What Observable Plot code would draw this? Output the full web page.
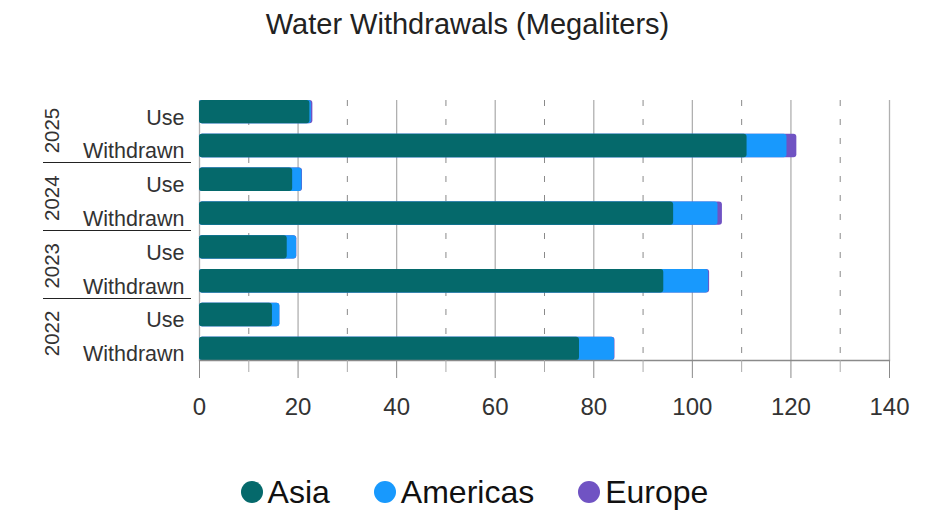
<!DOCTYPE html>
<html>
<head>
<meta charset="utf-8">
<script src="https://cdn.jsdelivr.net/npm/d3@7"></script>
<script src="https://cdn.jsdelivr.net/npm/@observablehq/plot@0.6"></script>
<style>
  body { margin: 0; background: #fff; font-family: "Liberation Sans", Arial, sans-serif; }
  #title { height: 50px; line-height: 49px; text-align: center; font-size: 29px; color: #222; }
  #legend { display: flex; justify-content: center; align-items: center; gap: 44px; margin-top: 14px; height: 36px; font-size: 32px; color: #111; padding-left: 14px; }
  #legend .item { display: flex; align-items: center; gap: 5px; }
  #legend .dot { width: 22px; height: 22px; border-radius: 50%; }
</style>
</head>
<body>
<div id="title">Water Withdrawals (Megaliters)</div>
<div id="chart"></div>
<div id="legend"></div>
<script>
// Years from top to bottom, and the two measures shown for each year
const years = ["2025", "2024", "2023", "2022"];
const kinds = ["Use", "Withdrawn"];
const regions = ["Asia", "Americas", "Europe"];
const colors = ["#05696b", "#1899fd", "#7053c3"];

// Megaliters by region, one value per year (same order as `years`)
const asiaUse = [22.4, 18.9, 17.8, 14.8];
const asiaWithdrawn = [111.1, 96.2, 94.2, 77.1];
const americasUse = [0.3, 1.9, 1.9, 1.5];
const americasWithdrawn = [8.1, 9.0, 9.1, 7.1];
const europeUse = [0.3, 0.1, 0.05, 0];
const europeWithdrawn = [2.0, 0.9, 0.2, 0.1];

const xMajor = [0, 20, 40, 60, 80, 100, 120, 140];
const xMinor = [10, 30, 50, 70, 90, 110, 130];

const rows = years.flatMap((year, i) => kinds.map(kind => ({
  key: `${year} ${kind}`,
  asia: (kind === "Use" ? asiaUse : asiaWithdrawn)[i],
  americas: (kind === "Use" ? americasUse : americasWithdrawn)[i],
  europe: (kind === "Use" ? europeUse : europeWithdrawn)[i]
})));

const marginLeft = 199;
const plot = Plot.plot({
  width: 935,
  height: 410,
  marginTop: 50,
  marginBottom: 100,
  marginLeft,
  marginRight: 46,
  style: {fontFamily: "Liberation Sans, Arial, sans-serif", fontSize: "20px", color: "#333", background: "#fff"},
  x: {domain: [0, 140], axis: null, label: null},
  y: {domain: rows.map(d => d.key), paddingInner: 0.31, paddingOuter: 0, round: false, axis: null, label: null},
  marks: [
    Plot.gridX(xMajor, {stroke: "#b0b0b0", strokeOpacity: 1, strokeWidth: 1.3}),
    Plot.gridX(xMinor, {stroke: "#8a8a8a", strokeOpacity: 1, strokeWidth: 1, strokeDasharray: "6,13"}),
    // cumulative bars drawn back to front so each region's end shows past the previous one
    Plot.barX(rows, {y: "key", x1: 0, x2: d => d.asia + d.americas + d.europe, fill: colors[2], rx: 3}),
    Plot.barX(rows, {y: "key", x1: 0, x2: d => d.asia + d.americas, fill: colors[1], rx: 3}),
    Plot.barX(rows, {y: "key", x1: 0, x2: d => d.asia, fill: colors[0], rx: 3}),
    Plot.frame({anchor: "bottom", stroke: "#8a8a8a", strokeWidth: 1.3}),
    Plot.axisX(xMajor, {tickSize: 18, tickPadding: 19, fontSize: 24, stroke: "#8a8a8a", color: "#333", label: null}),
    Plot.axisX(xMinor, {tickSize: 12, tickFormat: () => "", stroke: "#aaa", label: null}),
    Plot.axisY({tickSize: 0, tickPadding: 15, fontSize: 21.5, dy: 5.5, tickFormat: d => d.split(" ")[1], label: null})
  ]
});
document.getElementById("chart").appendChild(plot);

// Year group labels and separators in the left margin, placed with the y scale
const y = plot.scale("y");
const gap = y.step - y.bandwidth;
const svg = d3.select(plot);
svg.append("g")
  .attr("font-size", 20.5)
  .attr("fill", "#333")
  .attr("text-anchor", "middle")
  .selectAll("text")
  .data(years)
  .join("text")
  .attr("transform", d => `translate(${marginLeft - 147},${y.apply(`${d} Use`) + y.bandwidth + gap / 2 + 2}) rotate(-90)`)
  .attr("dy", "0.35em")
  .text(d => d);
svg.append("g")
  .attr("stroke", "#222")
  .attr("stroke-width", 1.2)
  .selectAll("line")
  .data(years.slice(0, -1))
  .join("line")
  .attr("x1", marginLeft - 156)
  .attr("x2", marginLeft - 8)
  .attr("y1", d => Math.round(y.apply(`${d} Withdrawn`) + y.bandwidth + gap / 2) + 0.5)
  .attr("y2", d => Math.round(y.apply(`${d} Withdrawn`) + y.bandwidth + gap / 2) + 0.5);

// Legend
const legend = d3.select("#legend");
regions.forEach((r, i) => {
  const item = legend.append("div").attr("class", "item");
  item.append("div").attr("class", "dot").style("background", colors[i]);
  item.append("span").text(r);
});
</script>
</body>
</html>
